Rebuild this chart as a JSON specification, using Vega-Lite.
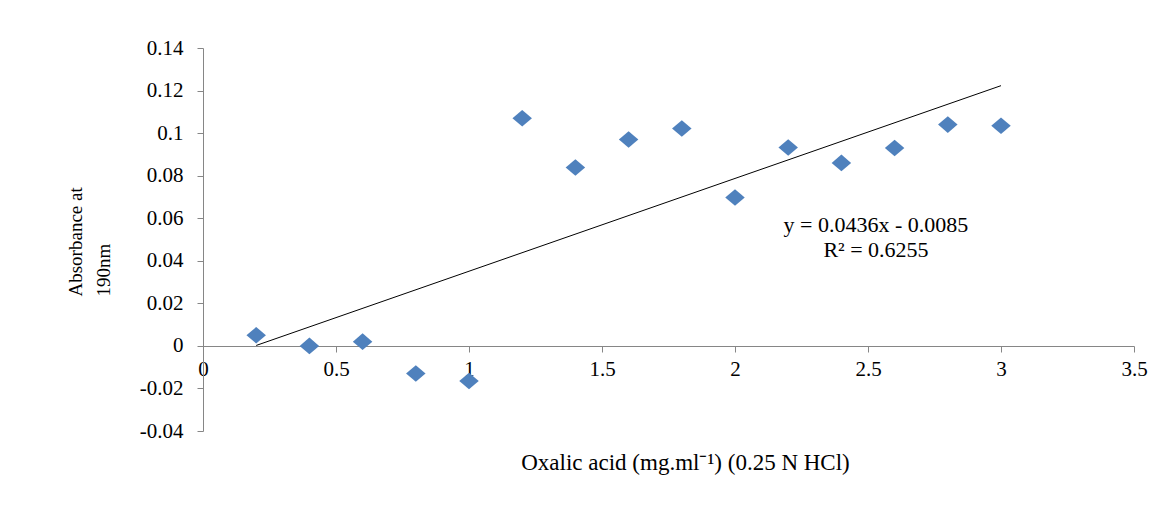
{
  "$schema": "https://vega.github.io/schema/vega-lite/v6.json",
  "autosize": "none",
  "width": 931,
  "height": 383,
  "padding": {"left": 203, "top": 48, "right": 31, "bottom": 75},
  "background": "white",
  "config": {
    "view": {"stroke": null},
    "font": "Liberation Serif",
    "axis": {"grid": false, "domainColor": "#868686", "tickColor": "#868686", "labelColor": "#000", "titleColor": "#000", "labelFont": "Liberation Serif", "titleFont": "Liberation Serif", "titleFontWeight": "normal"}
  },
  "datasets": {
    "points": [
      {"conc": 0.2, "abs": 0.005},
      {"conc": 0.4, "abs": 0.0},
      {"conc": 0.6, "abs": 0.002},
      {"conc": 0.8, "abs": -0.013},
      {"conc": 1.0, "abs": -0.0165},
      {"conc": 1.2, "abs": 0.107},
      {"conc": 1.4, "abs": 0.0838},
      {"conc": 1.6, "abs": 0.097},
      {"conc": 1.8, "abs": 0.1022},
      {"conc": 2.0, "abs": 0.0697},
      {"conc": 2.2, "abs": 0.0932},
      {"conc": 2.4, "abs": 0.086},
      {"conc": 2.6, "abs": 0.093},
      {"conc": 2.8, "abs": 0.104},
      {"conc": 3.0, "abs": 0.1035}
    ],
    "trend": [
      {"conc": 0.2, "abs": 0.0002},
      {"conc": 3.0, "abs": 0.1223}
    ],
    "labels": [
      {"conc": 2.53, "abs": 0.0569, "text": "y = 0.0436x - 0.0085"},
      {"conc": 2.53, "abs": 0.0452, "text": "R² = 0.6255"}
    ]
  },
  "encoding": {
    "x": {
      "field": "conc", "type": "quantitative",
      "scale": {"domain": [0, 3.5], "nice": false, "zero": false}
    },
    "y": {
      "field": "abs", "type": "quantitative",
      "scale": {"domain": [-0.04, 0.14], "nice": false, "zero": false}
    }
  },
  "layer": [
    {
      "data": {"name": "points"},
      "mark": {"type": "point", "shape": "M-1,0L0,-0.85L1,0L0,0.85Z", "filled": true, "size": 380, "color": "#4F81BD", "opacity": 1},
      "encoding": {
        "x": {
          "field": "conc", "type": "quantitative",
          "axis": {
            "title": "Oxalic acid (mg.ml⁻¹) (0.25 N HCl)",
            "values": [0, 0.5, 1, 1.5, 2, 2.5, 3, 3.5],
            "labelExpr": "datum.value + ''",
            "offset": -85,
            "tickSize": 6,
            "labelPadding": 6,
            "labelFontSize": 21,
            "labelBaseline": "top",
            "labelFlush": false,
            "labelOverlap": false,
            "titleFontSize": 23,
            "titleX": 482,
            "titleY": 116,
            "titleBaseline": "middle",
            "titleAnchor": null,
            "titleAlign": "center"
          }
        },
        "y": {
          "field": "abs", "type": "quantitative",
          "axis": {
            "title": ["Absorbance at", "190nm"],
            "values": [-0.04, -0.02, 0, 0.02, 0.04, 0.06, 0.08, 0.1, 0.12, 0.14],
            "labelExpr": "datum.value + ''",
            "tickSize": 6,
            "labelPadding": 14,
            "labelFontSize": 21,
            "labelFlush": false,
            "labelOverlap": false,
            "titleFontSize": 19,
            "titleAngle": -90,
            "titleAlign": "left",
            "titleBaseline": "alphabetic",
            "titleLineHeight": 28,
            "titleX": -122,
            "titleY": 248,
            "titleAnchor": null
          }
        }
      }
    },
    {
      "data": {"name": "trend"},
      "mark": {"type": "line", "color": "#000000", "strokeWidth": 1},
      "encoding": {}
    },
    {
      "data": {"name": "labels"},
      "mark": {"type": "text", "fontSize": 22, "align": "center", "baseline": "middle", "color": "#000"},
      "encoding": {"text": {"field": "text"}}
    }
  ]
}
